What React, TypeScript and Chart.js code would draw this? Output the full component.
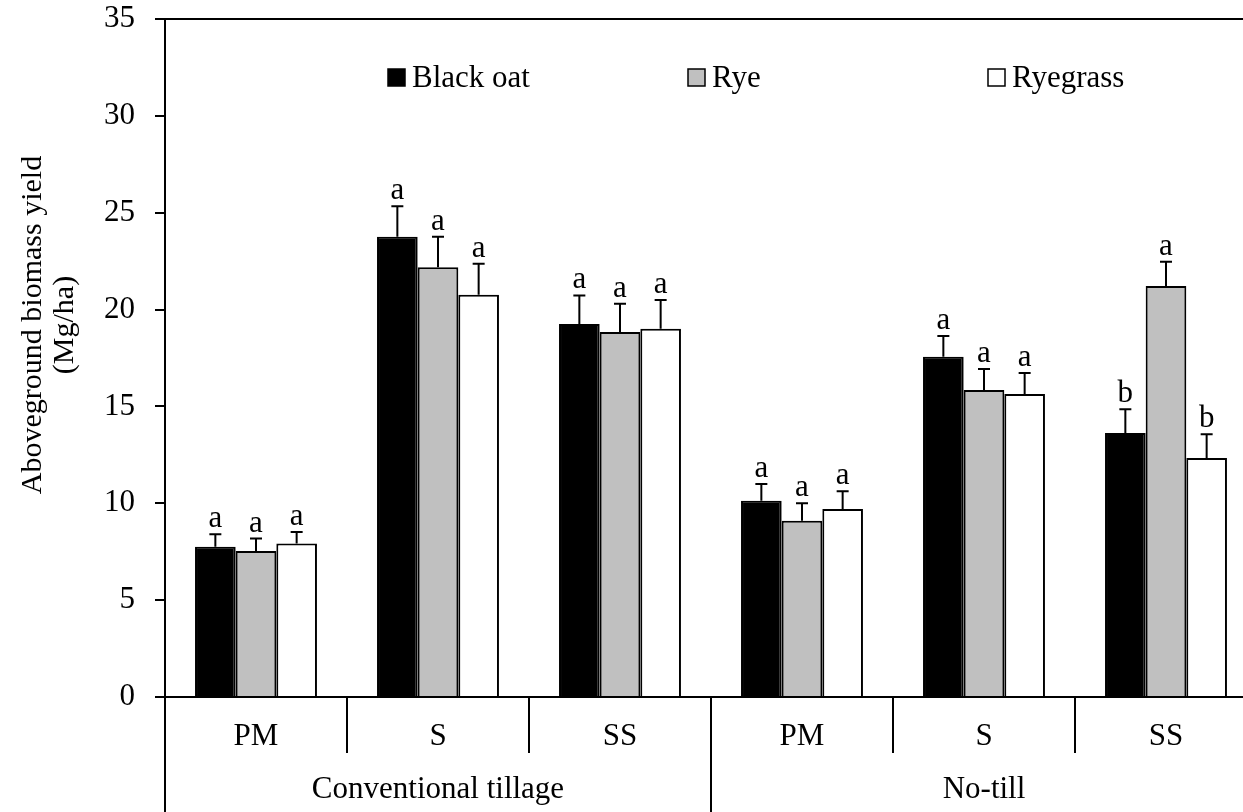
import React, { useEffect, useRef } from "react";
import { Chart, registerables } from "chart.js";

Chart.register(...registerables);

const categories = ["PM", "S", "SS", "PM", "S", "SS"];
const groups = ["Conventional tillage", "No-till"];
const groupSize = 3;

const seriesNames = ["Black oat", "Rye", "Ryegrass"];
const blackOat = [7.75, 23.76, 19.25, 10.13, 17.57, 13.63];
const blackOatErr = [0.65, 1.57, 1.48, 0.87, 1.07, 1.22];
const rye = [7.54, 22.19, 18.84, 9.1, 15.85, 21.22];
const ryeErr = [0.64, 1.57, 1.46, 0.9, 1.08, 1.25];
const ryegrass = [7.92, 20.76, 19.01, 9.71, 15.64, 12.34];
const ryegrassErr = [0.6, 1.61, 1.48, 0.91, 1.09, 1.22];
const blackOatLetters = ["a", "a", "a", "a", "a", "b"];
const ryeLetters = ["a", "a", "a", "a", "a", "a"];
const ryegrassLetters = ["a", "a", "a", "a", "a", "b"];

const yTitle = ["Aboveground biomass yield", "(Mg/ha)"];
const yMin = 0;
const yMax = 35;
const yStep = 5;

const FONT = "'Liberation Serif', 'Times New Roman', serif";
const fills = ["#000000", "#c0c0c0", "#ffffff"];

const errors = [blackOatErr, ryeErr, ryegrassErr];
const letters = [blackOatLetters, ryeLetters, ryegrassLetters];

const decorPlugin = {
  id: "decor",
  afterDatasetsDraw(chart: any) {
    const ctx = chart.ctx;
    const area = chart.chartArea;
    const x = chart.scales.x;
    const y = chart.scales.y;
    ctx.save();
    // error bars and letters
    chart.data.datasets.forEach((ds: any, di: number) => {
      const meta = chart.getDatasetMeta(di);
      meta.data.forEach((el: any, i: number) => {
        const v = ds.data[i];
        const top = y.getPixelForValue(v + errors[di][i]);
        ctx.strokeStyle = "#000";
        ctx.lineWidth = 2;
        ctx.beginPath();
        ctx.moveTo(el.x, el.y);
        ctx.lineTo(el.x, top);
        ctx.moveTo(el.x - 6, top);
        ctx.lineTo(el.x + 6, top);
        ctx.stroke();
        ctx.fillStyle = "#000";
        ctx.font = `31px ${FONT}`;
        ctx.textAlign = "center";
        ctx.textBaseline = "alphabetic";
        ctx.fillText(letters[di][i], el.x, top - 7);
      });
    });
    // top border
    ctx.strokeStyle = "#000";
    ctx.lineWidth = 2;
    ctx.beginPath();
    ctx.moveTo(area.left, area.top);
    ctx.lineTo(area.right, area.top);
    ctx.stroke();
    // category separators below axis
    const n = categories.length;
    const bounds: number[] = [area.left];
    for (let i = 0; i < n - 1; i++) {
      bounds.push((x.getPixelForValue(i) + x.getPixelForValue(i + 1)) / 2);
    }
    bounds.push(area.right);
    const H = chart.height;
    bounds.forEach((bx, k) => {
      const full = k % groupSize === 0;
      ctx.beginPath();
      ctx.moveTo(Math.round(bx), area.bottom);
      ctx.lineTo(Math.round(bx), full ? H : area.bottom + 56);
      ctx.stroke();
    });
    // category labels
    ctx.fillStyle = "#000";
    ctx.font = `31px ${FONT}`;
    ctx.textAlign = "center";
    ctx.textBaseline = "middle";
    categories.forEach((c, i) => {
      ctx.fillText(c, x.getPixelForValue(i), area.bottom + 40);
    });
    groups.forEach((g, gi) => {
      const a = bounds[gi * groupSize];
      const b = bounds[(gi + 1) * groupSize];
      ctx.fillText(g, (a + b) / 2, area.bottom + 93);
    });
    // legend
    const legendX = [area.left + 223, area.left + 523, area.left + 823];
    seriesNames.forEach((name, si) => {
      const lx = legendX[si];
      ctx.fillStyle = fills[si];
      ctx.fillRect(lx, 69, 17, 17);
      ctx.strokeStyle = "#000";
      ctx.lineWidth = 1.5;
      ctx.strokeRect(lx, 69, 17, 17);
      ctx.fillStyle = "#000";
      ctx.font = `31px ${FONT}`;
      ctx.textAlign = "left";
      ctx.textBaseline = "alphabetic";
      ctx.fillText(name, lx + 24, 87);
    });
    // y title
    ctx.save();
    ctx.translate(33, 325);
    ctx.rotate(-Math.PI / 2);
    ctx.font = `30px ${FONT}`;
    ctx.textAlign = "center";
    ctx.textBaseline = "middle";
    ctx.fillText(yTitle[0], 0, 0);
    ctx.fillText(yTitle[1], 0, 32);
    ctx.restore();
    ctx.restore();
  },
};

export default function App() {
  const ref = useRef<HTMLCanvasElement | null>(null);
  useEffect(() => {
    if (!ref.current) return;
    const chart = new Chart(ref.current, {
      type: "bar",
      data: {
        labels: categories,
        datasets: [blackOat, rye, ryegrass].map((d, i) => ({
          label: seriesNames[i],
          data: d,
          backgroundColor: fills[i],
          borderColor: "#000",
          borderWidth: 2,
          categoryPercentage: 0.67,
          barPercentage: 1.0,
        })),
      },
      options: {
        animation: false,
        responsive: false,
        devicePixelRatio: 1,
        layout: { padding: { top: 19, right: 13, left: 0, bottom: 0 } },
        plugins: { legend: { display: false }, tooltip: { enabled: false } },
        scales: {
          x: {
            grid: { display: false },
            ticks: { display: false },
            border: { display: true, color: "#000", width: 2 },
            afterFit(scale: any) {
              scale.height = 115;
              scale.paddingLeft = 0;
              scale.paddingRight = 0;
            },
          },
          y: {
            min: yMin,
            max: yMax,
            ticks: {
              stepSize: yStep,
              color: "#000",
              font: { family: FONT, size: 31 },
              padding: 20,
            },
            grid: {
              drawOnChartArea: false,
              drawTicks: true,
              tickLength: 10,
              color: "#000",
              lineWidth: 2,
            },
            border: { display: true, color: "#000", width: 2 },
            afterFit(scale: any) {
              scale.width = 165;
              scale.paddingTop = 0;
              scale.paddingBottom = 0;
            },
          },
        },
      },
      plugins: [decorPlugin],
    });
    return () => chart.destroy();
  }, []);
  return (
    <div
      style={{
        position: "fixed",
        left: 0,
        top: 0,
        width: 1243,
        height: 812,
        overflow: "hidden",
        background: "#fff",
      }}
    >
      <canvas ref={ref} width={1270} height={812} style={{ display: "block" }} />
    </div>
  );
}
